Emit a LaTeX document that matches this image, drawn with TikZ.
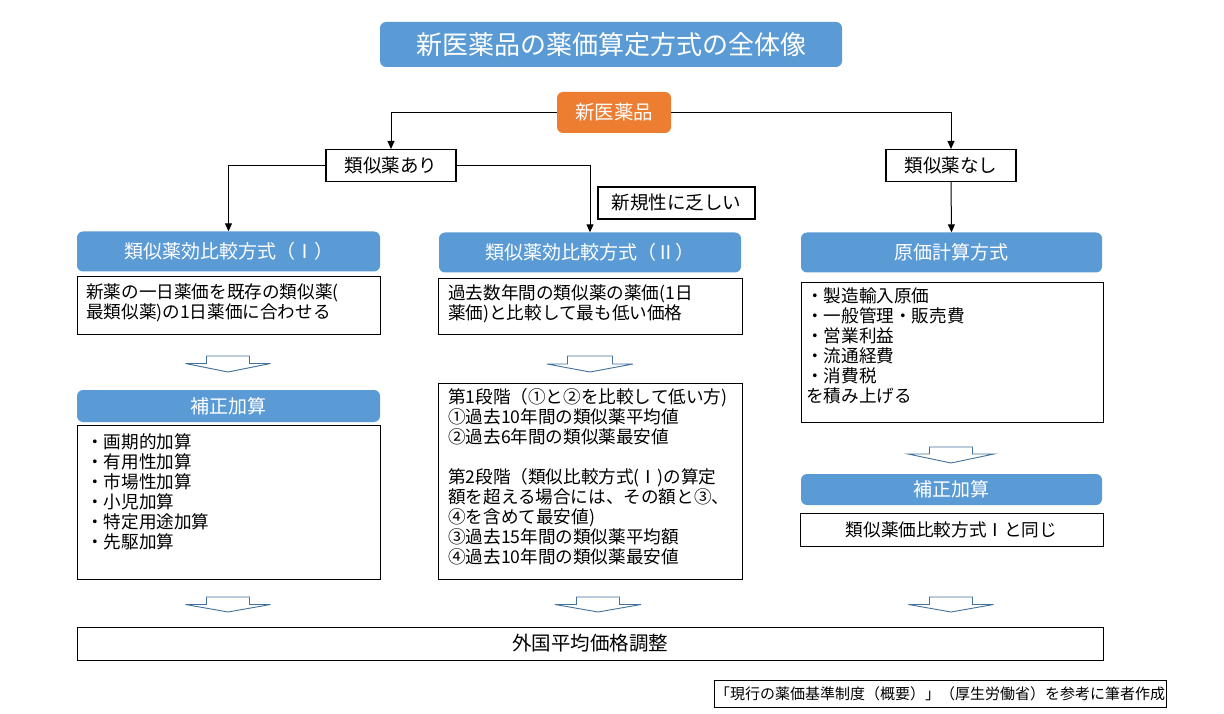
\documentclass[tikz,border=0pt]{standalone}
\usepackage{fontspec}
\setmainfont{Noto Sans CJK JP}
\usetikzlibrary{arrows.meta}
\definecolor{hblue}{HTML}{5B9BD5}
\definecolor{horange}{HTML}{ED7D31}
\definecolor{harrowc}{HTML}{41719C}
\newcommand{\hollowdown}[6]{%
  \draw[harrowstyle] ({#1-#5},#2) -- ({#1+#5},#2) -- ({#1+#5},#3) -- ({#1+#6},#3) -- (#1,#4) -- ({#1-#6},#3) -- ({#1-#5},#3) -- cycle;}
\tikzset{
  harrowstyle/.style={draw=harrowc, line width=0.9pt, fill=white, line join=miter},
  bluebox/.style={fill=hblue, rounded corners=6pt, text=white, inner sep=0pt, font=\fontsize{19}{22}\selectfont},
  orbox/.style={fill=horange, rounded corners=6pt, text=white, inner sep=0pt, font=\fontsize{19.5}{22}\selectfont},
  labbox/.style={draw=black, line width=1.1pt, fill=white, inner sep=0pt, font=\fontsize{18.5}{21}\selectfont},
  txtbox/.style={draw=black, line width=1pt, inner sep=0pt},
  bodytxt/.style={anchor=north west, inner sep=0pt, align=left, font=\fontsize{17.6}{20}\selectfont},
  conn/.style={draw=black, line width=1pt, -{Triangle[length=8pt,width=7pt]}},
}
\begin{document}
\begin{tikzpicture}[x=1pt,y=-1pt]
\useasboundingbox[fill=white] (0,0) rectangle (1224,714);
% title
\node[bluebox, minimum width=462pt, minimum height=45pt, font=\fontsize{26}{30}\selectfont] (title) at (611,44.5) {新医薬品の薬価算定方式の全体像};
% top
\node[orbox, minimum width=114pt, minimum height=41pt] (shin) at (614,112.5) {新医薬品};
\node[labbox, minimum width=130pt, minimum height=32pt] (ari) at (391,165.5) {類似薬あり};
\node[labbox, minimum width=130pt, minimum height=32pt] (nashi) at (951,165.5) {類似薬なし};
\node[labbox, minimum width=157pt, minimum height=32pt] (teki) at (676.5,203) {新規性に乏しい};
% method headers
\node[bluebox, minimum width=303pt, minimum height=40pt] (h1) at (228.5,251.5) {類似薬効比較方式（Ⅰ）};
\node[bluebox, minimum width=302pt, minimum height=40pt] (h2) at (590,252.5) {類似薬効比較方式（Ⅱ）};
\node[bluebox, minimum width=301pt, minimum height=40pt] (h3) at (951.5,252.5) {原価計算方式};
% connectors
\draw[conn] (shin.west) -| (ari.north);
\draw[conn] (shin.east) -| (nashi.north);
\draw[conn] (ari.west) -| (h1.north);
\draw[conn] (ari.east) -| (h2.north);
\draw[conn] (nashi.south) -- (h3.north);
% text boxes row 1
\node[txtbox, minimum width=303pt, minimum height=57pt] (t1) at (228.5,305.5) {};
\node[bodytxt] (t1txt) at (86,283.5) {新薬の一日薬価を既存の類似薬(\\最類似薬)の1日薬価に合わせる};
\node[txtbox, minimum width=304pt, minimum height=55pt] (t2) at (590,306.5) {};
\node[bodytxt] (t2txt) at (448,284.5) {過去数年間の類似薬の薬価(1日\\薬価)と比較して最も低い価格};
\node[txtbox, minimum width=302pt, minimum height=139pt] (t3) at (952,352.5) {};
\node[bodytxt] (t3txt) at (806,287.5) {・製造輸入原価\\・一般管理・販売費\\・営業利益\\・流通経費\\・消費税\\を積み上げる};
% hollow arrows row 1
\hollowdown{228}{356}{363.5}{372}{21.5}{42.5}
\hollowdown{590}{356}{364}{372}{22.5}{43}
\hollowdown{951}{447}{454}{463}{21.5}{43}
% second row
\node[bluebox, minimum width=303pt, minimum height=32pt] (k1) at (228.5,406) {補正加算};
\node[txtbox, minimum width=303pt, minimum height=154pt] (l1) at (228.5,502) {};
\node[bodytxt] (l1txt) at (86,433.5) {・画期的加算\\・有用性加算\\・市場性加算\\・小児加算\\・特定用途加算\\・先駆加算};
\node[txtbox, minimum width=304pt, minimum height=196pt] (l2) at (590,481) {};
\node[bodytxt] (l2txt) at (448,388.5) {第1段階（①と②を比較して低い方)\\①過去10年間の類似薬平均値\\②過去6年間の類似薬最安値\\[20pt]第2段階（類似比較方式(Ⅰ)の算定\\額を超える場合には、その額と③、\\④を含めて最安値)\\③過去15年間の類似薬平均額\\④過去10年間の類似薬最安値};
\node[bluebox, minimum width=301pt, minimum height=31pt] (k3) at (951.5,489.5) {補正加算};
\node[txtbox, minimum width=303pt, minimum height=33pt, font=\fontsize{17.6}{20}\selectfont] (l3) at (951.5,529.5) {類似薬価比較方式Ⅰと同じ};
% hollow arrows row 2
\hollowdown{228}{597}{604.5}{612}{21.5}{42.5}
\hollowdown{598}{597}{604.5}{612}{21.5}{43}
\hollowdown{951}{597}{604.5}{612}{21.5}{42.5}
% bottom
\node[txtbox, minimum width=1026pt, minimum height=33pt, font=\fontsize{19.5}{22}\selectfont] (gai) at (590,643.5) {外国平均価格調整};
\node[txtbox, minimum width=452pt, minimum height=27pt, font=\fontsize{15}{18}\selectfont] (src) at (940,693.5) {「現行の薬価基準制度（概要）」（厚生労働省）を参考に筆者作成};
\end{tikzpicture}
\end{document}
